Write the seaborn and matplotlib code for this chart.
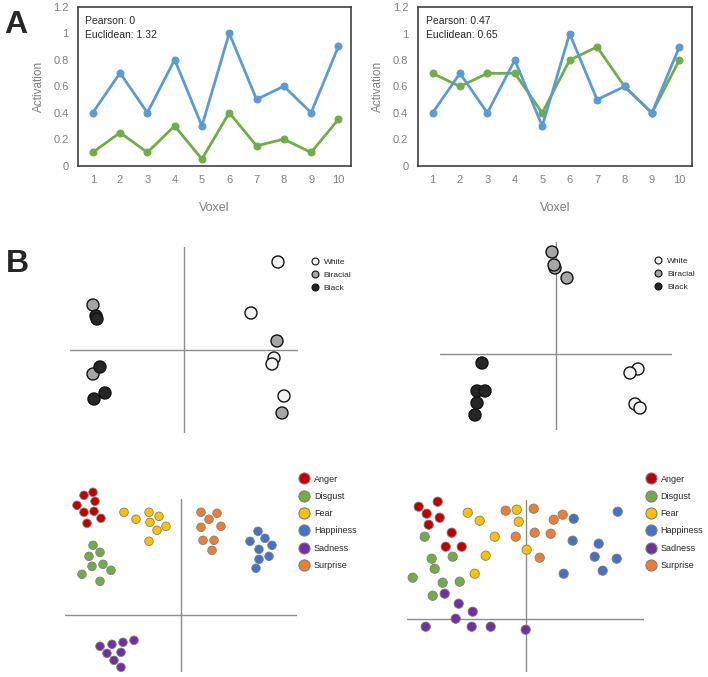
"""Similarity measures and representational geometry figure (panels A and B)."""

import matplotlib.pyplot as plt
import matplotlib.ticker as mticker
from matplotlib.lines import Line2D
import pandas as pd
import seaborn as sns

W, H = 708, 677

# ── panel A data ──────────────────────────────────────────────────────────────
voxels     = list(range(1, 11))
blue_act   = [0.4, 0.7, 0.4, 0.8, 0.3, 1.0, 0.5, 0.6, 0.4, 0.9]
green_low  = [0.1, 0.25, 0.1, 0.3, 0.05, 0.4, 0.15, 0.2, 0.1, 0.35]
green_corr = [0.7, 0.6, 0.7, 0.7, 0.4, 0.8, 0.9, 0.6, 0.4, 0.8]
y_ticks    = [0, 0.2, 0.4, 0.6, 0.8, 1.0, 1.2]
stats_left  = ["Pearson: 0", "Euclidean: 1.32"]
stats_right = ["Pearson: 0.47", "Euclidean: 0.65"]

# ── panel B data: race (arbitrary MDS units) ──────────────────────────────────
races = ["White", "Biracial", "Black"]
race_l_x = [94, 67, 90, 88, 100, -91, 93, -91, 98, -88, -87, -84, -79, -90]
race_l_y = [88, 37, -8, -14, -46, 45, 9, -24, -63, 34, 31, -17, -43, -49]
race_l_g = ["White"] * 5 + ["Biracial"] * 4 + ["Black"] * 5
race_r_x = [82, 74, 79, 84, -1, -4, -2, 11, -74, -79, -71, -79, -81]
race_r_y = [-15, -19, -50, -54, 86, 102, 89, 76, -9, -37, -37, -49, -61]
race_r_g = ["White"] * 4 + ["Biracial"] * 4 + ["Black"] * 5

# ── panel B data: emotions ────────────────────────────────────────────────────
emotions = ["Anger", "Disgust", "Fear", "Happiness", "Sadness", "Surprise"]
emo_l_x = [-88, -97, -86, -104, -97, -87, -80, -94,
           -88, -81, -92, -78, -89, -70, -99, -81,
           -57, -45, -32, -22, -31, -15, -24, -32,
           77, 84, 69, 91, 78, 88, 78, 75,
           -47, -58, -69, -81, -60, -74, -67, -60,
           20, 36, 28, 20, 40, 22, 33, 31]
emo_l_y = [123, 120, 114, 110, 103, 104, 97, 92,
           70, 63, 59, 51, 49, 45, 41, 34,
           103, 96, 103, 99, 93, 89, 85, 74,
           84, 77, 74, 70, 66, 59, 56, 47,
           -25, -27, -29, -31, -37, -38, -45, -52,
           103, 102, 96, 88, 89, 75, 75, 65]
emo_r_x = [-107, -88, -99, -86, -97, -74, -80, -64,
           -101, -94, -73, -91, -113, -83, -66, -93,
           -58, -46, -9, -7, -31, 1, -40, -51,
           92, 48, 47, 73, 69, 91, 77, 38,
           -81, -67, -53, -70, -100, -54, -35, 0,
           -20, 8, 37, 28, -10, 9, 25, 14]
emo_r_y = [112, 117, 105, 101, 94, 86, 72, 72,
           82, 60, 62, 50, 41, 36, 37, 23,
           106, 98, 109, 97, 82, 69, 63, 45,
           107, 100, 78, 75, 62, 60, 48, 45,
           25, 15, 7, 0, -8, -8, -8, -11,
           108, 110, 104, 99, 82, 86, 85, 61]

BLUE, GREEN = "#5B9BD5", "#70AD47"
RACE_COLORS = {"White": "#F2F2F2", "Biracial": "#A6A6A6", "Black": "#262626"}
EMO_COLORS = {"Anger": "#C00000", "Disgust": "#70AD47", "Fear": "#FFC000",
              "Happiness": "#4472C4", "Sadness": "#7030A0", "Surprise": "#ED7D31"}

# ── canvas ────────────────────────────────────────────────────────────────────
sns.set_theme(style="white")
plt.rcParams["font.family"] = ["Liberation Sans", "DejaVu Sans"]
fig = plt.figure(figsize=(W / 100, H / 100), dpi=100, facecolor="white")


def px_axes(l, t, r, b):
    return fig.add_axes([l / W, 1 - b / H, (r - l) / W, (b - t) / H])


def fig_text(x, y, s, **kw):
    fig.text(x / W, 1 - y / H, s, **kw)


# ── Panel A — line charts ────────────────────────────────────────────────────
def line_panel(box, green, stats, stats_x):
    ax = px_axes(*box)
    sns.lineplot(x=voxels, y=green, ax=ax, color=GREEN, lw=2, marker="o",
                 markersize=5, mec=GREEN)
    sns.lineplot(x=voxels, y=blue_act, ax=ax, color=BLUE, lw=2, marker="o",
                 markersize=5, mec=BLUE)
    ax.set_xlim(0.47, 10.45)
    ax.set_ylim(0, 1.2)
    ax.set_xticks(voxels)
    ax.set_yticks(y_ticks)
    ax.yaxis.set_major_formatter(mticker.FuncFormatter(lambda v, _: f"{v:g}"))
    ax.tick_params(length=0, labelsize=8, colors="#7F7F7F")
    ax.tick_params(axis="x", pad=7)
    ax.tick_params(axis="y", pad=7)
    ax.set_xlabel("Voxel", fontsize=9, color="#7F7F7F", labelpad=12)
    ax.set_ylabel("Activation", fontsize=8.5, color="#7F7F7F", labelpad=6)
    for spine in ax.spines.values():
        spine.set_edgecolor("#404040")
        spine.set_linewidth(1.2)
    fig_text(stats_x, 24.5, stats[0], fontsize=7.5, va="baseline")
    fig_text(stats_x, 37.7, stats[1], fontsize=7.5, va="baseline")
    return ax


line_panel((78.3, 6.7, 350.7, 165.7), green_low, stats_left, 85)
line_panel((418, 7.3, 691.7, 165.7), green_corr, stats_right, 425.5)

# ── Panel B — MDS scatter plots ──────────────────────────────────────────────
def cross_axes(box, xlim, ylim):
    ax = px_axes(*box)
    ax.set_xlim(*xlim)
    ax.set_ylim(*ylim)
    ax.axhline(0, color="#8C8C8C", lw=1, zorder=0)
    ax.axvline(0, color="#8C8C8C", lw=1, zorder=0)
    ax.set_axis_off()
    return ax


def race_panel(box, xlim, ylim, xs, ys, gs):
    ax = cross_axes(box, xlim, ylim)
    df = pd.DataFrame({"x": xs, "y": ys, "g": gs})
    sns.scatterplot(data=df, x="x", y="y", hue="g", hue_order=races,
                    palette=RACE_COLORS, s=75, edgecolor="#111111",
                    linewidth=1, legend=False, ax=ax, clip_on=False)


def emo_panel(box, xlim, ylim, xs, ys, size):
    ax = cross_axes(box, xlim, ylim)
    df = pd.DataFrame({"x": xs, "y": ys,
                       "g": [e for e in emotions for _ in range(8)]})
    sns.scatterplot(data=df, x="x", y="y", hue="g", hue_order=emotions,
                    palette=EMO_COLORS, s=size, edgecolor="#7F7F7F",
                    linewidth=0.6, legend=False, ax=ax, clip_on=False)


race_panel((70, 247, 298, 433), (-114, 114), (-83, 103), race_l_x, race_l_y, race_l_g)
race_panel((440, 241.7, 671.7, 430), (-116, 115.7), (-76, 112.3), race_r_x, race_r_y, race_r_g)
emo_panel((65, 499.3, 297.3, 671.7), (-116, 116.3), (-56.4, 116), emo_l_x, emo_l_y, 38)
emo_panel((407.3, 500, 644.3, 671.7), (-118.4, 118.6), (-53, 118.7), emo_r_x, emo_r_y, 45)


# ── legends ───────────────────────────────────────────────────────────────────
def legend_at(x, y, labels, colors, ms, fs, spacing, edge):
    handles = [Line2D([], [], ls="", marker="o", ms=ms, mfc=colors[k],
                      mec=edge, mew=0.8) for k in labels]
    fig.legend(handles, labels, loc="upper left", bbox_to_anchor=(x / W, 1 - y / H),
               frameon=False, fontsize=fs, handlelength=1.2, handletextpad=0.5,
               labelspacing=spacing, borderpad=0, borderaxespad=0, labelcolor="#262626")


legend_at(309.5, 258.5, races, RACE_COLORS, 5, 6, 0.6, "#111111")
legend_at(653, 257.5, races, RACE_COLORS, 5, 6, 0.6, "#111111")
legend_at(298.6, 474.5, emotions, EMO_COLORS, 8, 6.5, 0.92, "#7F7F7F")
legend_at(645.3, 474.5, emotions, EMO_COLORS, 8, 6.5, 0.92, "#7F7F7F")

# ── panel letters ─────────────────────────────────────────────────────────────
fig_text(4, 33, "A", fontsize=23, fontweight="bold", va="baseline")
fig_text(6, 272, "B", fontsize=23, fontweight="bold", va="baseline")

fig.savefig("out.png", dpi=100, facecolor="white")
